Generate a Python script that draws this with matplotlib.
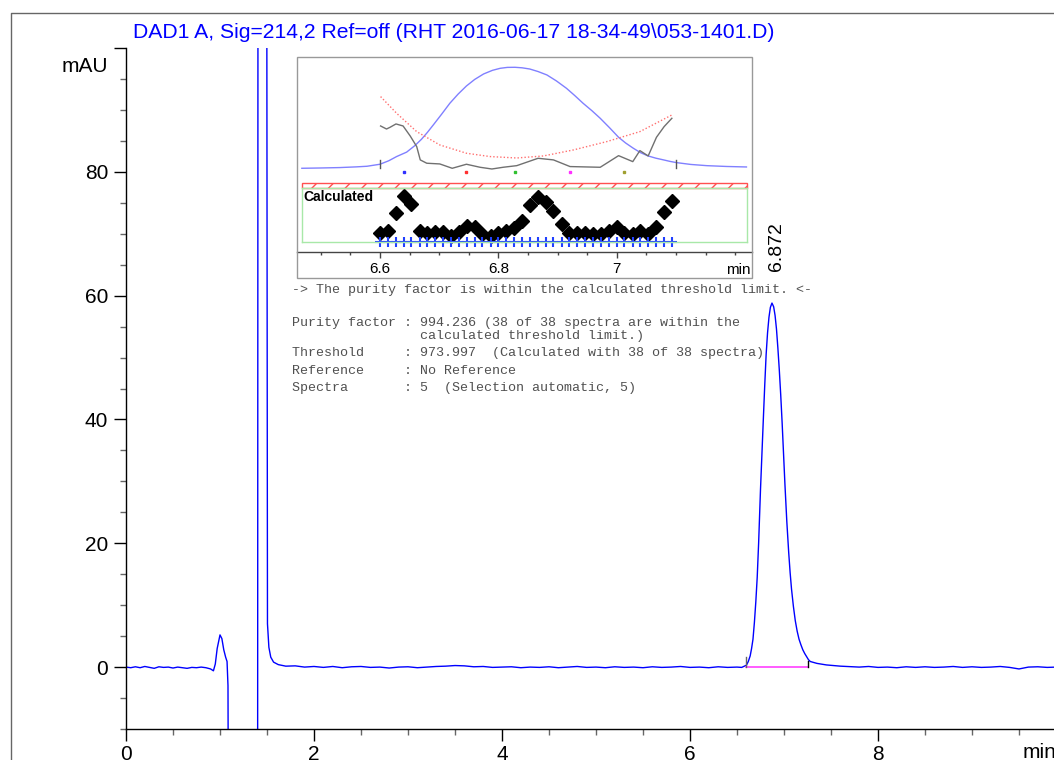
import matplotlib
matplotlib.use("Agg")
import matplotlib.pyplot as plt
from matplotlib.patches import Rectangle
from matplotlib.ticker import MultipleLocator, FixedLocator, FuncFormatter

plt.rcParams['font.family'] = ['Liberation Sans', 'DejaVu Sans']

# Хроматограмма DAD1 A (время, мин / сигнал, mAU)
time_min = [
    0.00, 0.05, 0.10, 0.15, 0.20, 0.25, 0.30, 0.35, 0.40, 0.45,
    0.50, 0.55, 0.60, 0.65, 0.70, 0.75, 0.80, 0.85, 0.90, 0.93,
    0.95, 0.97, 1.00, 1.02, 1.04, 1.06, 1.075, 1.085, 1.09, 1.40,
    1.405, 1.495, 1.505, 1.52, 1.54, 1.57, 1.62, 1.70, 1.80, 1.90,
    2.00, 2.10, 2.20, 2.30, 2.40, 2.50, 2.60, 2.70, 2.80, 2.90,
    3.00, 3.10, 3.20, 3.30, 3.40, 3.50, 3.60, 3.70, 3.80, 3.90,
    4.00, 4.10, 4.20, 4.30, 4.40, 4.50, 4.60, 4.70, 4.80, 4.90,
    5.00, 5.10, 5.20, 5.30, 5.40, 5.50, 5.60, 5.70, 5.80, 5.90,
    6.00, 6.10, 6.20, 6.30, 6.40, 6.50, 6.55,
    6.60, 6.62, 6.64, 6.655, 6.67, 6.685, 6.70, 6.715, 6.73, 6.75,
    6.765, 6.78, 6.795, 6.81, 6.825, 6.84, 6.855, 6.872, 6.89, 6.905,
    6.92, 6.935, 6.95, 6.965, 6.98, 6.995, 7.01, 7.03, 7.05, 7.065,
    7.08, 7.10, 7.12, 7.14, 7.16, 7.18, 7.20, 7.22, 7.24, 7.26,
    7.28, 7.35, 7.45, 7.60, 7.80, 7.90, 8.00, 8.10, 8.20,
    8.30, 8.40, 8.50, 8.60, 8.70, 8.80, 8.90, 9.00, 9.10, 9.20,
    9.30, 9.40, 9.50, 9.60, 9.70, 9.80, 9.90, 10.0,
]
signal_mau = [
    0.0, -0.1, 0.05, -0.1, 0.1, -0.05, -0.2, 0.05, -0.05, 0.0,
    -0.15, 0.0, -0.1, -0.2, -0.05, -0.1, 0.0, -0.1, -0.3, -0.6,
    0.5, 3.0, 5.2, 4.6, 2.8, 1.6, 0.9, -3.0, -30.0, -30.0,
    150.0, 150.0, 7.0, 3.2, 1.6, 0.8, 0.4, 0.15, 0.2, 0.0,
    0.1, -0.05, 0.1, -0.1, 0.05, 0.1, -0.05, 0.0, -0.15, 0.0,
    0.05, -0.1, 0.0, 0.1, 0.15, 0.25, 0.2, 0.05, 0.1, -0.05,
    0.0, 0.05, -0.1, 0.0, -0.05, 0.05, -0.1, 0.0, 0.1, -0.05,
    0.0, -0.1, 0.05, -0.05, 0.0, -0.1, 0.05, -0.05, 0.0, 0.1,
    -0.05, 0.0, -0.1, 0.05, -0.05, 0.0, -0.05,
    0.3, 0.9, 1.8, 3.0, 4.5, 7.2, 10.5, 14.5, 20.0, 28.7,
    34.5, 40.0, 45.5, 50.5, 54.0, 56.5, 58.1, 58.8, 58.2, 56.8,
    54.6, 51.5, 48.0, 44.0, 39.5, 34.5, 29.5, 23.5, 18.5, 15.3,
    12.6, 9.8, 7.5, 5.8, 4.5, 3.6, 2.8, 2.2, 1.7, 1.2,
    0.9, 0.6, 0.35, 0.15, 0.0, 0.1, -0.05, 0.0, -0.1,
    0.05, -0.05, 0.05, -0.05, 0.0, 0.1, -0.05, 0.05, -0.05, 0.0,
    0.1, -0.05, -0.3, 0.0, 0.05, -0.05, 0.0, 0.05,
]

peak_rt = 6.872
peak_height = 58.8
peak_start, peak_end = 6.596, 7.255

# Спектры чистоты пика (вставка)
blue_t = [6.468, 6.500, 6.532, 6.560, 6.578, 6.600, 6.615, 6.628, 6.645, 6.659,
          6.670, 6.680, 6.690, 6.704, 6.718, 6.732, 6.746, 6.760, 6.775, 6.790,
          6.803, 6.815, 6.828, 6.840, 6.853, 6.867, 6.882, 6.898, 6.915, 6.929,
          6.943, 6.958, 6.972, 6.988, 7.003, 7.015, 7.028, 7.040, 7.053, 7.066,
          7.079, 7.090, 7.101, 7.125, 7.152, 7.185, 7.219]
blue_v = [0, 0.3, 0.7, 1.4, 2, 4, 7.5, 11.6, 16, 22.5,
          28.7, 35.5, 42.9, 53.5, 64.4, 73.5, 81.5, 88, 93.4, 97,
          99, 99.9, 100, 99.5, 98.3, 95.8, 92.4, 86.5, 79.2, 72,
          64.4, 57, 49.5, 40, 30.7, 25, 19.8, 15.5, 12.2, 10,
          8.3, 6.8, 5.6, 3.8, 2.6, 1.8, 1.3]

red_t = [6.601, 6.628, 6.662, 6.701, 6.746, 6.786, 6.831, 6.876, 6.927, 6.983, 7.039, 7.093]
red_v = [71, 54.5, 36.3, 23.1, 14.9, 11.6, 10.2, 12.2, 18.2, 26.4, 36.3, 52.8]

gray_t = [6.601, 6.611, 6.617, 6.627, 6.639, 6.651, 6.662, 6.668, 6.679, 6.701,
          6.722, 6.746, 6.769, 6.789, 6.808, 6.831, 6.867, 6.893, 6.921, 6.972,
          7.003, 7.027, 7.039, 7.053, 7.067, 7.080, 7.093]
gray_v = [41.9, 38.9, 40.6, 43.9, 41.9, 32, 21.5, 8.3, 5, 4.3,
          0, 4, 1, -0.7, 1, 2.6, 9.9, 8.3, 1.7, 1,
          12.5, 6.6, 17.5, 12.2, 30.7, 41.3, 49.5]

spec_t = [6.641, 6.746, 6.828, 6.921, 7.013]
spec_colors = ['#3030ff', '#ff3030', '#30c030', '#ff30ff', '#a0a030']

purity_t = [6.600, 6.613, 6.627, 6.640, 6.653, 6.667, 6.680, 6.693, 6.707, 6.720,
            6.733, 6.747, 6.760, 6.773, 6.787, 6.800, 6.813, 6.827, 6.840, 6.853,
            6.867, 6.880, 6.893, 6.907, 6.920, 6.933, 6.947, 6.960, 6.973, 6.987,
            7.000, 7.013, 7.027, 7.040, 7.053, 7.067, 7.080, 7.093]
purity_v = [0.157, 0.206, 0.532, 0.856, 0.706, 0.206, 0.157, 0.176, 0.187, 0.112,
            0.176, 0.300, 0.270, 0.144, 0.112, 0.169, 0.206, 0.251, 0.393, 0.687,
            0.843, 0.743, 0.581, 0.326, 0.157, 0.157, 0.157, 0.139, 0.139, 0.206,
            0.270, 0.157, 0.139, 0.200, 0.139, 0.281, 0.562, 0.768]

report_lines = [
    "-> The purity factor is within the calculated threshold limit. <-",
    "Purity factor : 994.236 (38 of 38 spectra are within the",
    "                calculated threshold limit.)",
    "Threshold     : 973.997  (Calculated with 38 of 38 spectra)",
    "Reference     : No Reference",
    "Spectra       : 5  (Selection automatic, 5)",
]
report_y = [290, 323, 336, 353, 371, 388]

W, H = 1054, 760


def fx(px):
    return px / W


def fy(py):
    return 1 - py / H


fig = plt.figure(figsize=(W / 100, H / 100), dpi=100)

# рамка листа
fig.add_artist(plt.Line2D([fx(11), fx(11), 1], [0, fy(13), fy(13)], color='#666666', lw=1.0))

fig.text(fx(133), fy(32), r"DAD1 A, Sig=214,2 Ref=off (RHT 2016-06-17 18-34-49\053-1401.D)",
         color='#0000ff', fontsize=15.2, va='center', ha='left')

# основной график
ax = fig.add_axes([fx(126), fy(729), 940 / W, (729 - 48) / H])
ax.plot(time_min, signal_mau, color='#0000ff', lw=1.0)
ax.set_xlim(0, 10)
ax.set_ylim(-10, 100)
for s in ['top', 'right']:
    ax.spines[s].set_visible(False)
for s in ['left', 'bottom']:
    ax.spines[s].set_linewidth(1.0)
ax.xaxis.set_major_locator(MultipleLocator(2))
ax.xaxis.set_minor_locator(MultipleLocator(0.5))
ax.yaxis.set_major_locator(MultipleLocator(20))
ax.yaxis.set_minor_locator(MultipleLocator(5))
ax.xaxis.set_major_formatter(FuncFormatter(lambda v, p: '' if v > 9 else '%g' % v))
ax.yaxis.set_major_formatter(FuncFormatter(lambda v, p: '' if v > 90 else '%g' % v))
ax.tick_params(which='major', direction='out', length=8.4, width=1.0, labelsize=15)
ax.tick_params(axis='y', which='major', pad=4.5)
ax.tick_params(axis='x', which='major', pad=3)
ax.tick_params(which='minor', direction='out', length=4.3, width=1.0, color='#666666')

# базовая линия пика и метки начала/конца
ax.plot([peak_start, peak_end], [0, 0], color='#ff40ff', lw=1.2)
ax.plot([peak_start, peak_start], [0, 1.6], color='#666666', lw=1)
ax.plot([peak_end, peak_end], [0, 1.0], color='black', lw=1)
ax.annotate('%.3f' % peak_rt, xy=(peak_rt, peak_height), xytext=(5, 32),
            textcoords='offset pixels', rotation=90, ha='center', va='bottom', fontsize=14)

fig.text(fx(108), fy(67), 'mAU', ha='right', va='center', fontsize=15)
fig.text(fx(1023), fy(752), 'min', ha='left', va='center', fontsize=15)

# вставка: спектры чистоты
x0, x1 = 297.3, 751.7
ins = fig.add_axes([fx(x0), fy(252.3), (x1 - x0) / W, (252.3 - 57.3) / H])
ins.set_xlim(6.6 + (x0 - 380) / 592, 6.6 + (x1 - 380) / 592)
ins.set_ylim(-83.2, 109.9)
ins.patch.set_facecolor('white')
for s in ['top', 'left', 'right']:
    ins.spines[s].set_visible(False)
ins.spines['bottom'].set_color('#444444')
ins.spines['bottom'].set_linewidth(1)
ins.set_yticks([])
ins.xaxis.set_major_locator(FixedLocator([6.6, 6.8, 7.0]))
ins.xaxis.set_minor_locator(MultipleLocator(0.05))
ins.xaxis.set_major_formatter(FuncFormatter(lambda v, p: '%g' % round(v, 2)))
ins.tick_params(which='major', direction='out', length=4.3, width=1, color='#444444', labelsize=11, pad=3)
ins.tick_params(which='minor', direction='out', length=2.5, width=1, color='#444444')

ins.plot(blue_t, blue_v, color='#8080ff', lw=1)
ins.plot(red_t, red_v, color='#ff7070', lw=1, ls=(0, (1, 1.5)))
ins.plot(gray_t, gray_v, color='#707070', lw=1)
for t in [6.6, 7.1]:
    ins.plot([t, t], [0, 8], color='#555555', lw=1)
for t, c in zip(spec_t, spec_colors):
    ins.plot([t], [-4], marker='s', ms=1.5, color=c, ls='none')

fig.add_artist(Rectangle((fx(x0), fy(277.7)), (x1 - x0) / W, (277.7 - 57.3) / H,
                         transform=fig.transFigure, fill=False, edgecolor='#999999', lw=1, zorder=5))
fig.text(fx(751), fy(270), 'min', ha='right', va='center', fontsize=11)

# полоса порога и фактор чистоты
px0, px1 = 301.7, 747.3
pur = fig.add_axes([fx(px0), fy(241.7), (px1 - px0) / W, (241.7 - 188.3) / H])
pur.set_xlim(6.6 + (px0 - 380) / 592, 6.6 + (px1 - 380) / 592)
pur.set_ylim(0, 1)
pur.patch.set_visible(False)
for s in pur.spines.values():
    s.set_color('#a8e8a8')
    s.set_linewidth(1)
pur.set_xticks([])
pur.set_yticks([])
pur.add_patch(Rectangle((0, 1), 1, 0.105, transform=pur.transAxes, facecolor='white',
                        edgecolor='#ff5050', hatch='//', lw=1, clip_on=False))
pur.text(0.003, 0.843, 'Calculated', transform=pur.transAxes, ha='left', va='center',
         fontsize=10, fontweight='bold')
pur.plot(purity_t, purity_v, ls='none', marker='D', ms=7, color='black', clip_on=False)
pur.plot(purity_t, [0] * len(purity_t), ls='none', marker='+', ms=7, mew=1.5,
         color='#2040ff', clip_on=False)

for line, y in zip(report_lines, report_y):
    fig.text(fx(292), fy(y), line, family='Liberation Mono', fontsize=9.65,
             color='#505050', ha='left', va='center')

fig.savefig('out.png', dpi=100)
